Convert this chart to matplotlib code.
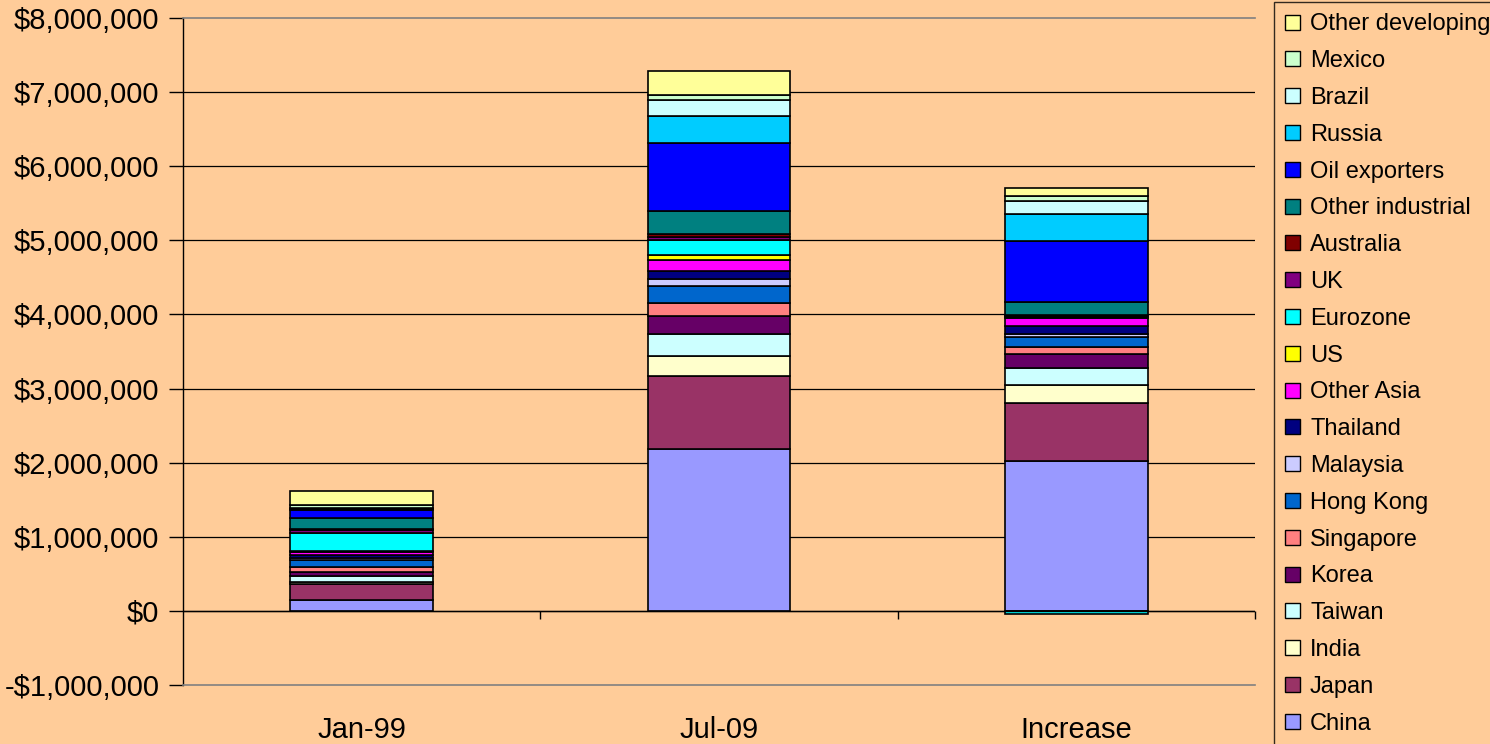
import matplotlib
matplotlib.use("Agg")
import matplotlib.pyplot as plt
from matplotlib.ticker import FuncFormatter, MultipleLocator
from matplotlib.patches import Patch
import numpy as np

plt.rcParams['font.family'] = ['Liberation Sans', 'DejaVu Sans']

categories = ["Jan-99", "Jul-09", "Increase"]
series_names = ["China", "Japan", "India", "Taiwan", "Korea", "Singapore",
                "Hong Kong", "Malaysia", "Thailand", "Other Asia", "US",
                "Eurozone", "UK", "Australia", "Other industrial",
                "Oil exporters", "Russia", "Brazil", "Mexico", "Other developing"]

# values in millions of dollars (displayed as dollars)
jan99 = [0.148, 0.216, 0.027, 0.078, 0.062, 0.063, 0.090, 0.027, 0.040, 0.040,
         0.018, 0.247, 0.036, 0.018, 0.140, 0.113, 0.017, 0.014, 0.032, 0.194]
jul09 = [2.182, 0.993, 0.262, 0.301, 0.239, 0.175, 0.238, 0.086, 0.108, 0.153,
         0.067, 0.196, 0.050, 0.033, 0.319, 0.908, 0.370, 0.216, 0.067, 0.324]
increase = [2.028, 0.783, 0.239, 0.233, 0.181, 0.103, 0.126, 0.040, 0.117, 0.100,
            0.012, -0.045, 0.017, 0.015, 0.176, 0.820, 0.367, 0.176, 0.070, 0.100]

colors = ["#9999FF", "#993366", "#FFFFCC", "#CCFFFF", "#660066", "#FF8080",
          "#0066CC", "#CCCCFF", "#000080", "#FF00FF", "#FFFF00", "#00FFFF",
          "#800080", "#800000", "#008080", "#0000FF", "#00CCFF", "#CCFFFF",
          "#CCFFCC", "#FFFF99"]

bg = "#FFCC99"
fig = plt.figure(figsize=(14.9, 7.44), dpi=100, facecolor=bg)
ax = fig.add_axes([183/1490, 59/744, (1255-183)/1490, (685-18)/744])
ax.set_facecolor(bg)

data = np.array([jan99, jul09, increase]) * 1e6
x = np.arange(len(categories))
pos_bottom = np.zeros(len(categories))
neg_bottom = np.zeros(len(categories))
handles = []
for i, name in enumerate(series_names):
    vals = data[:, i]
    bottoms = np.where(vals >= 0, pos_bottom, neg_bottom)
    ax.bar(x, vals, width=0.4, bottom=bottoms, color=colors[i],
           edgecolor="black", linewidth=1.2, zorder=3)
    pos_bottom += np.where(vals >= 0, vals, 0)
    neg_bottom += np.where(vals < 0, vals, 0)
    handles.append(Patch(facecolor=colors[i], edgecolor="black", linewidth=1.0, label=name))

ax.set_xlim(-0.5, 2.5)
ax.set_ylim(-1e6, 8e6)
ax.yaxis.set_major_locator(MultipleLocator(1e6))

def fmt(v, pos):
    if v < 0:
        return "-${:,.0f}".format(-v)
    return "${:,.0f}".format(v)
ax.yaxis.set_major_formatter(FuncFormatter(fmt))

for y in range(0, 8):
    ax.axhline(y * 1e6, color="black", linewidth=0.9, zorder=1)
ax.axhline(0, color="black", linewidth=1.0, zorder=4)
# category tick marks on zero line
ax.vlines([0.5, 1.5, 2.5], -0.11e6, 0, color="black", linewidth=1.0, zorder=4, clip_on=False)

ax.set_xticks(x)
ax.set_xticklabels(categories)
ax.tick_params(axis='x', length=0, pad=22.5, labelsize=21)
ax.tick_params(axis='y', length=10, width=1.0, labelsize=21, pad=7, direction='out')

for s in ["top", "bottom", "right"]:
    ax.spines[s].set_color("#808080")
    ax.spines[s].set_linewidth(1.2)
ax.spines["right"].set_visible(False)
ax.spines["left"].set_color("black")
ax.spines["left"].set_linewidth(1.0)

leg = fig.legend(handles=handles[::-1], loc="upper left",
                 bbox_to_anchor=(1274/1490, 1 - 2/744), fontsize=17,
                 frameon=True, fancybox=False, edgecolor="black", facecolor=bg,
                 handlelength=0.6, handleheight=0.6, handletextpad=0.45,
                 labelspacing=0.627, borderpad=0.48, borderaxespad=0)
leg.get_frame().set_linewidth(1.0)

fig.savefig("out.png", dpi=100, facecolor=bg)
